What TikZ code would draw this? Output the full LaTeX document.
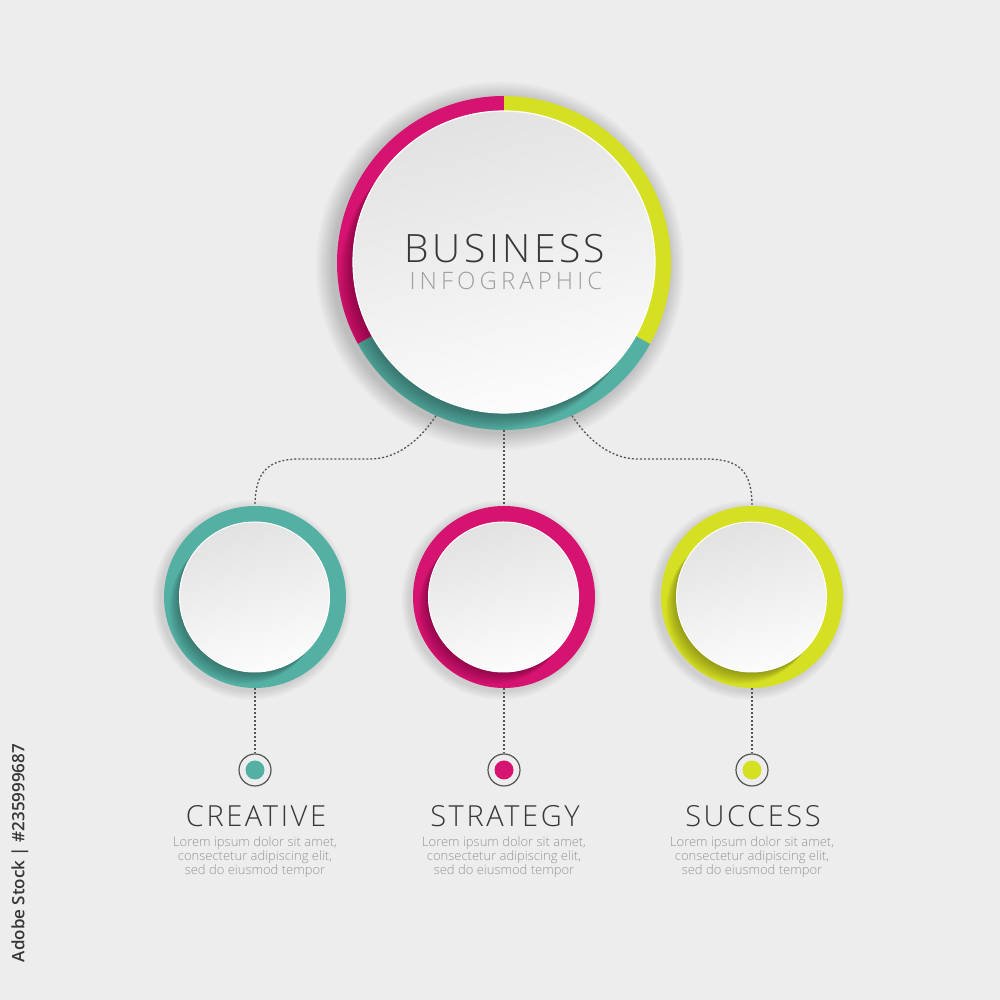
\documentclass[tikz,border=0pt]{standalone}
\usepackage{fontspec}
\IfFontExistsTF{Open Sans Light}{\setmainfont{Open Sans Light}}{\setmainfont{Open Sans}}
\IfFontExistsTF{Open Sans Semibold}{\newfontfamily\wmfont{Open Sans Semibold}}{\newfontfamily\wmfont{Open Sans}}
\usetikzlibrary{calc}
\definecolor{bg}{RGB}{237,237,237}
\definecolor{mag}{RGB}{214,19,112}
\definecolor{lime}{RGB}{214,224,34}
\definecolor{teal}{RGB}{85,176,164}
\definecolor{dotc}{RGB}{85,85,85}
\definecolor{titlec}{RGB}{55,55,55}
\definecolor{bodyc}{RGB}{150,150,150}
\definecolor{discA}{RGB}{226,226,226}
\definecolor{discB}{RGB}{252,252,252}
\tikzset{
  bigring/.style={circle, inner sep=0pt, minimum size=334pt},
  bigdisc/.style={circle, inner sep=0pt, minimum size=302pt, top color=discA, bottom color=discB, shading angle=15, draw=white, line width=1.2pt},
  ring/.style={circle, inner sep=0pt, minimum size=182pt},
  disc/.style={circle, inner sep=0pt, minimum size=150pt, top color=discA, bottom color=discB, shading angle=15, draw=white, line width=1pt},
  marker/.style={circle, inner sep=0pt, minimum size=32pt, draw=dotc, line width=1.2pt},
  dots/.style={draw=dotc, line width=1.3pt, dash pattern=on 2pt off 2pt},
  title/.style={text=titlec, font=\fontsize{29}{34}\selectfont\addfontfeatures{LetterSpace=9}},
  body/.style={text=bodyc, align=center, font=\fontsize{13}{12}\selectfont},
}
\begin{document}
\begin{tikzpicture}[x=1pt,y=1pt]
\useasboundingbox (0,0) rectangle (1000,1000);
\fill[bg] (0,0) rectangle (1000,1000);

% ---- big circle ----
\foreach \k in {1,...,16} \fill[black,opacity=0.011] (500,734) circle ({167+\k*1.1});
\node[bigring] (b) at (504,737) {};
\fill[mag] (b.center) -- ++(90:167) arc[start angle=90, end angle=209, radius=167] -- cycle;
\fill[lime] (b.center) -- ++(-29:167) arc[start angle=-29, end angle=90, radius=167] -- cycle;
\fill[teal] (b.center) -- ++(209:167) arc[start angle=209, end angle=331, radius=167] -- cycle;
\begin{scope}
  \clip (b.center) circle (167);
  \foreach \k in {1,...,14} \fill[black,opacity=0.025] ($(b.center)+(-\k*1.0,-\k*1.2)$) circle (151);
\end{scope}
\node[bigdisc] (bd) at (504,738) {};
\node[text=titlec, font=\fontsize{39}{44}\selectfont\addfontfeatures{LetterSpace=9}] (t0) at (505,751) {BUSINESS};
\node[text=gray!75, font=\fontsize{24}{28}\selectfont\addfontfeatures{LetterSpace=17}] (s0) at (506,719) {INFOGRAPHIC};

% ---- three small circles ----
\foreach \n/\x/\col/\lab in {1/255/teal/CREATIVE,2/504/mag/STRATEGY,3/752/lime/SUCCESS}{
  \foreach \k in {1,...,10} \fill[black,opacity=0.012] (\x-3,400) circle ({91+\k*0.9});
  \node[ring, fill=\col] (c\n) at (\x,403) {};
  \begin{scope}
    \clip (c\n.center) circle (91);
    \foreach \k in {1,...,12} \fill[black,opacity=0.028] ($(c\n.center)+(-\k*0.9,-\k*1.0)$) circle (75);
  \end{scope}
  \node[disc] (d\n) at (\x-0.5,403) {};
  \node[marker] (m\n) at (\x,230) {};
  \fill[\col] (m\n.center) circle (9.5);
  \draw[dots] (c\n.south) -- (m\n.north);
  \node[title] (t\n) at (\x+1,184) {\lab};
  \node[body] (p\n) at (\x,143) {Lorem ipsum dolor sit amet,\\consectetur adipiscing elit,\\sed do eiusmod tempor};
}

% ---- connectors ----
\draw[dots] (b.246) .. controls (418,557) and (395,541) .. (370,541) -- (300,541) .. controls (268,541) and (255,528) .. (c1.north);
\draw[dots] (b.south) -- (c2.north);
\draw[dots] (b.294) .. controls (590,557) and (613,541) .. (638,541) -- (706,541) .. controls (740,541) and (752,528) .. (c3.north);

% ---- side credit ----
\node[rotate=90, text=titlec, font=\wmfont\fontsize{17}{20}\selectfont] (wm) at (20,147) {Adobe Stock | \#235999687};
\end{tikzpicture}
\end{document}
